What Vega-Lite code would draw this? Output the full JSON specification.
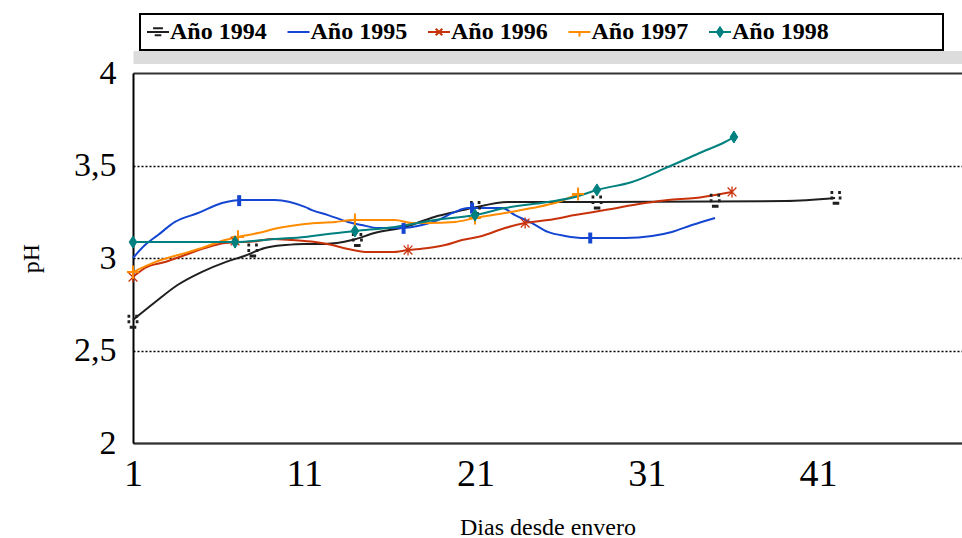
{
  "$schema": "https://vega.github.io/schema/vega-lite/v6.json",
  "width": 829,
  "height": 370,
  "autosize": "none",
  "padding": {"left": 133, "top": 73, "right": 0, "bottom": 95},
  "background": "white",
  "config": {"view": {"stroke": null}, "font": "Liberation Serif"},
  "datasets": {
    "curves": [
      {"serie": "Año 1994", "dia": 1, "ph": 2.665},
      {"serie": "Año 1994", "dia": 2.3, "ph": 2.762},
      {"serie": "Año 1994", "dia": 3.6, "ph": 2.854},
      {"serie": "Año 1994", "dia": 5.0, "ph": 2.924},
      {"serie": "Año 1994", "dia": 6.4, "ph": 2.978},
      {"serie": "Año 1994", "dia": 7.5, "ph": 3.011},
      {"serie": "Año 1994", "dia": 8.7, "ph": 3.054},
      {"serie": "Año 1994", "dia": 9.9, "ph": 3.07},
      {"serie": "Año 1994", "dia": 11.0, "ph": 3.076},
      {"serie": "Año 1994", "dia": 12.2, "ph": 3.076},
      {"serie": "Año 1994", "dia": 13.8, "ph": 3.097},
      {"serie": "Año 1994", "dia": 15.1, "ph": 3.135},
      {"serie": "Año 1994", "dia": 16.9, "ph": 3.168},
      {"serie": "Año 1994", "dia": 18.6, "ph": 3.222},
      {"serie": "Año 1994", "dia": 19.8, "ph": 3.249},
      {"serie": "Año 1994", "dia": 20.8, "ph": 3.27},
      {"serie": "Año 1994", "dia": 22.9, "ph": 3.303},
      {"serie": "Año 1994", "dia": 28.1, "ph": 3.303},
      {"serie": "Año 1994", "dia": 39.1, "ph": 3.308},
      {"serie": "Año 1994", "dia": 42.0, "ph": 3.324},
      {"serie": "Año 1995", "dia": 1, "ph": 3.0},
      {"serie": "Año 1995", "dia": 1.7, "ph": 3.07},
      {"serie": "Año 1995", "dia": 2.46, "ph": 3.124},
      {"serie": "Año 1995", "dia": 3.45, "ph": 3.195},
      {"serie": "Año 1995", "dia": 4.8, "ph": 3.243},
      {"serie": "Año 1995", "dia": 6.2, "ph": 3.297},
      {"serie": "Año 1995", "dia": 7.36, "ph": 3.314},
      {"serie": "Año 1995", "dia": 9.29, "ph": 3.314},
      {"serie": "Año 1995", "dia": 11.04, "ph": 3.276},
      {"serie": "Año 1995", "dia": 11.45, "ph": 3.259},
      {"serie": "Año 1995", "dia": 12.39, "ph": 3.232},
      {"serie": "Año 1995", "dia": 13.55, "ph": 3.195},
      {"serie": "Año 1995", "dia": 14.37, "ph": 3.178},
      {"serie": "Año 1995", "dia": 15.31, "ph": 3.162},
      {"serie": "Año 1995", "dia": 16.71, "ph": 3.162},
      {"serie": "Año 1995", "dia": 17.88, "ph": 3.178},
      {"serie": "Año 1995", "dia": 18.81, "ph": 3.205},
      {"serie": "Año 1995", "dia": 19.8, "ph": 3.249},
      {"serie": "Año 1995", "dia": 20.56, "ph": 3.27},
      {"serie": "Año 1995", "dia": 22.55, "ph": 3.27},
      {"serie": "Año 1995", "dia": 23.31, "ph": 3.232},
      {"serie": "Año 1995", "dia": 24.3, "ph": 3.189},
      {"serie": "Año 1995", "dia": 25.23, "ph": 3.141},
      {"serie": "Año 1995", "dia": 26.23, "ph": 3.119},
      {"serie": "Año 1995", "dia": 27.39, "ph": 3.108},
      {"serie": "Año 1995", "dia": 29.73, "ph": 3.108},
      {"serie": "Año 1995", "dia": 31.31, "ph": 3.119},
      {"serie": "Año 1995", "dia": 32.47, "ph": 3.141},
      {"serie": "Año 1995", "dia": 33.64, "ph": 3.178},
      {"serie": "Año 1995", "dia": 34.99, "ph": 3.216},
      {"serie": "Año 1996", "dia": 1, "ph": 2.897},
      {"serie": "Año 1996", "dia": 1.7, "ph": 2.946},
      {"serie": "Año 1996", "dia": 2.87, "ph": 2.978},
      {"serie": "Año 1996", "dia": 4.04, "ph": 3.016},
      {"serie": "Año 1996", "dia": 5.2, "ph": 3.054},
      {"serie": "Año 1996", "dia": 6.37, "ph": 3.081},
      {"serie": "Año 1996", "dia": 8.3, "ph": 3.092},
      {"serie": "Año 1996", "dia": 9.12, "ph": 3.103},
      {"serie": "Año 1996", "dia": 10.28, "ph": 3.097},
      {"serie": "Año 1996", "dia": 11.63, "ph": 3.086},
      {"serie": "Año 1996", "dia": 12.62, "ph": 3.07},
      {"serie": "Año 1996", "dia": 13.55, "ph": 3.049},
      {"serie": "Año 1996", "dia": 14.72, "ph": 3.032},
      {"serie": "Año 1996", "dia": 16.12, "ph": 3.032},
      {"serie": "Año 1996", "dia": 17.06, "ph": 3.043},
      {"serie": "Año 1996", "dia": 18.23, "ph": 3.054},
      {"serie": "Año 1996", "dia": 19.22, "ph": 3.07},
      {"serie": "Año 1996", "dia": 20.21, "ph": 3.097},
      {"serie": "Año 1996", "dia": 21.38, "ph": 3.119},
      {"serie": "Año 1996", "dia": 22.72, "ph": 3.162},
      {"serie": "Año 1996", "dia": 23.89, "ph": 3.189},
      {"serie": "Año 1996", "dia": 25.23, "ph": 3.205},
      {"serie": "Año 1996", "dia": 26.81, "ph": 3.232},
      {"serie": "Año 1996", "dia": 28.56, "ph": 3.259},
      {"serie": "Año 1996", "dia": 30.9, "ph": 3.297},
      {"serie": "Año 1996", "dia": 32.24, "ph": 3.314},
      {"serie": "Año 1996", "dia": 33.82, "ph": 3.324},
      {"serie": "Año 1996", "dia": 34.99, "ph": 3.341},
      {"serie": "Año 1996", "dia": 35.98, "ph": 3.357},
      {"serie": "Año 1997", "dia": 1, "ph": 2.924},
      {"serie": "Año 1997", "dia": 2.28, "ph": 2.978},
      {"serie": "Año 1997", "dia": 3.63, "ph": 3.016},
      {"serie": "Año 1997", "dia": 5.03, "ph": 3.054},
      {"serie": "Año 1997", "dia": 6.37, "ph": 3.097},
      {"serie": "Año 1997", "dia": 7.13, "ph": 3.114},
      {"serie": "Año 1997", "dia": 8.3, "ph": 3.135},
      {"serie": "Año 1997", "dia": 9.47, "ph": 3.162},
      {"serie": "Año 1997", "dia": 11.04, "ph": 3.184},
      {"serie": "Año 1997", "dia": 12.8, "ph": 3.195},
      {"serie": "Año 1997", "dia": 13.96, "ph": 3.205},
      {"serie": "Año 1997", "dia": 16.3, "ph": 3.205},
      {"serie": "Año 1997", "dia": 17.29, "ph": 3.189},
      {"serie": "Año 1997", "dia": 18.23, "ph": 3.189},
      {"serie": "Año 1997", "dia": 19.8, "ph": 3.195},
      {"serie": "Año 1997", "dia": 20.97, "ph": 3.216},
      {"serie": "Año 1997", "dia": 22.72, "ph": 3.243},
      {"serie": "Año 1997", "dia": 24.3, "ph": 3.27},
      {"serie": "Año 1997", "dia": 25.82, "ph": 3.303},
      {"serie": "Año 1997", "dia": 26.99, "ph": 3.346},
      {"serie": "Año 1998", "dia": 1, "ph": 3.086},
      {"serie": "Año 1998", "dia": 6.96, "ph": 3.086},
      {"serie": "Año 1998", "dia": 9.29, "ph": 3.103},
      {"serie": "Año 1998", "dia": 11.04, "ph": 3.114},
      {"serie": "Año 1998", "dia": 12.39, "ph": 3.13},
      {"serie": "Año 1998", "dia": 13.96, "ph": 3.146},
      {"serie": "Año 1998", "dia": 16.3, "ph": 3.168},
      {"serie": "Año 1998", "dia": 18.64, "ph": 3.205},
      {"serie": "Año 1998", "dia": 20.97, "ph": 3.232},
      {"serie": "Año 1998", "dia": 22.72, "ph": 3.27},
      {"serie": "Año 1998", "dia": 25.23, "ph": 3.303},
      {"serie": "Año 1998", "dia": 26.81, "ph": 3.33},
      {"serie": "Año 1998", "dia": 28.09, "ph": 3.368},
      {"serie": "Año 1998", "dia": 30.14, "ph": 3.411},
      {"serie": "Año 1998", "dia": 32.24, "ph": 3.492},
      {"serie": "Año 1998", "dia": 34.23, "ph": 3.573},
      {"serie": "Año 1998", "dia": 35.57, "ph": 3.627},
      {"serie": "Año 1998", "dia": 36.09, "ph": 3.654}
    ],
    "readings": [
      {"serie": "Año 1994", "dia": 1, "ph": 2.655},
      {"serie": "Año 1994", "dia": 8, "ph": 3.04},
      {"serie": "Año 1994", "dia": 14.1, "ph": 3.097},
      {"serie": "Año 1994", "dia": 21, "ph": 3.27},
      {"serie": "Año 1994", "dia": 28.1, "ph": 3.3},
      {"serie": "Año 1994", "dia": 35, "ph": 3.31},
      {"serie": "Año 1994", "dia": 42.05, "ph": 3.325},
      {"serie": "Año 1995", "dia": 7.2, "ph": 3.31},
      {"serie": "Año 1995", "dia": 16.8, "ph": 3.16},
      {"serie": "Año 1995", "dia": 20.8, "ph": 3.27},
      {"serie": "Año 1995", "dia": 27.7, "ph": 3.108},
      {"serie": "Año 1996", "dia": 1, "ph": 2.897},
      {"serie": "Año 1996", "dia": 6.96, "ph": 3.092},
      {"serie": "Año 1996", "dia": 17.06, "ph": 3.043},
      {"serie": "Año 1996", "dia": 23.9, "ph": 3.189},
      {"serie": "Año 1996", "dia": 35.98, "ph": 3.357},
      {"serie": "Año 1997", "dia": 1, "ph": 2.924},
      {"serie": "Año 1997", "dia": 7.13, "ph": 3.114},
      {"serie": "Año 1997", "dia": 13.96, "ph": 3.205},
      {"serie": "Año 1997", "dia": 20.97, "ph": 3.216},
      {"serie": "Año 1997", "dia": 26.99, "ph": 3.346},
      {"serie": "Año 1998", "dia": 1, "ph": 3.086},
      {"serie": "Año 1998", "dia": 6.96, "ph": 3.086},
      {"serie": "Año 1998", "dia": 13.96, "ph": 3.146},
      {"serie": "Año 1998", "dia": 20.97, "ph": 3.232},
      {"serie": "Año 1998", "dia": 28.09, "ph": 3.368},
      {"serie": "Año 1998", "dia": 36.09, "ph": 3.654}
    ]
  },
  "encoding": {
    "y": {
      "field": "ph",
      "type": "quantitative",
      "scale": {"domain": [2, 4], "nice": false, "zero": false},
      "axis": {
        "values": [2, 2.5, 3, 3.5, 4],
        "labelExpr": "replace(format(datum.value, '~g'), '.', ',')",
        "ticks": false,
        "domainColor": "#000",
        "domainWidth": 2,
        "grid": true,
        "gridColor": {"condition": {"test": "datum.value === 4", "value": "#333"}, "value": "#000"},
        "gridDash": {"condition": {"test": "datum.value === 4 || datum.value === 2", "value": []}, "value": [2, 2]},
        "gridWidth": {"condition": {"test": "datum.value === 4", "value": 2}, "value": 1.5},
        "labelFont": "Liberation Serif",
        "labelFontSize": 34,
        "labelColor": "#000",
        "labelPadding": 17,
        "title": "pH",
        "titleFont": "Liberation Serif",
        "titleFontSize": 24,
        "titleFontWeight": "normal",
        "titleColor": "#000",
        "titleX": -102,
        "titleY": 185,
        "titleAlign": "center",
        "titleBaseline": "middle"
      }
    },
    "color": {
      "field": "serie",
      "type": "nominal",
      "scale": {
        "domain": ["Año 1994", "Año 1995", "Año 1996", "Año 1997", "Año 1998"],
        "range": ["#1f1f1f", "#1446D2", "#C8320A", "#FF8C00", "#00807F"]
      },
      "legend": {
        "title": null,
        "orient": "none",
        "legendX": 7,
        "legendY": -59,
        "direction": "horizontal",
        "padding": 6,
        "strokeColor": "#000",
        "fillColor": "#fff",
        "labelFont": "Liberation Serif",
        "labelFontSize": 24,
        "labelFontWeight": "bold",
        "labelColor": "#000",
        "labelOffset": 0,
        "labelLimit": 400,
        "columnPadding": 16.5,
        "symbolSize": 484,
        "symbolStrokeWidth": 2,
        "symbolOpacity": 1,
        "labelExpr": "datum.value === 'Año 1998' ? datum.label + '\u2800\u2800\u2800\u2800\u2800\u2800' : datum.label",
        "encode": {
          "legend": {"update": {"strokeWidth": {"value": 2}}},
          "symbols": {
            "update": {
              "shape": {"signal": "datum.value === 'Año 1994' ? 'M-1,0H1M-0.45,-0.35H0.45M-0.3,0.3H0.3' : datum.value === 'Año 1995' ? 'M-1,0H1' : datum.value === 'Año 1996' ? 'M-1,0H1M-0.3,-0.3L0.3,0.3M-0.3,0.3L0.3,-0.3' : datum.value === 'Año 1997' ? 'M-1,0H1M0,0V0.4' : 'M-1,0H1M0,-0.4L0.28,0L0,0.4L-0.28,0Z'"},
              "fill": {"signal": "datum.value === 'Año 1998' ? '#00807F' : 'transparent'"},
              "strokeWidth": {"value": 2}
            }
          }
        }
      }
    }
  },
  "layer": [
    {
      "data": {"name": "curves"},
      "mark": {"type": "line", "interpolate": "monotone", "strokeWidth": 2},
      "encoding": {
        "x": {
          "field": "dia",
          "type": "quantitative",
          "scale": {"domain": [1, 49.41], "nice": false, "zero": false},
          "axis": {
            "values": [1, 11, 21, 31, 41],
            "format": "d",
            "ticks": false,
            "grid": false,
            "domainColor": "#333",
            "domainWidth": 2,
            "labelFont": "Liberation Serif",
            "labelFontSize": 38,
            "labelColor": "#000",
            "labelPadding": 12,
            "labelFlush": false,
            "labelOverlap": false,
            "title": "Dias desde envero",
            "titleFont": "Liberation Serif",
            "titleFontSize": 24,
            "titleFontWeight": "normal",
            "titleColor": "#000",
            "titleBaseline": "alphabetic",
            "titleY": 91
          }
        }
      }
    },
    {
      "data": {"name": "readings"},
      "mark": {"type": "point", "filled": false, "opacity": 1, "size": 120},
      "encoding": {
        "x": {
          "field": "dia",
          "type": "quantitative",
          "scale": {"domain": [1, 49.41], "nice": false, "zero": false},
          "axis": {
            "orient": "top",
            "offset": 16,
            "domainColor": "#dcdcdc",
            "domainWidth": 13,
            "labels": false,
            "ticks": false,
            "grid": false,
            "title": null
          }
        },
        "shape": {
          "condition": [
            {"test": "datum.serie === 'Año 1994'", "value": "M-1,-1H-0.5M0.4,-1H0.9M-1,0H-0.5M0.5,0H1M-0.6,1H0.6"},
            {"test": "datum.serie === 'Año 1995'", "value": "M0,-1V1"},
            {"test": "datum.serie === 'Año 1996'", "value": "M-0.8,-0.8L0.8,0.8M-0.8,0.8L0.8,-0.8M0,-1V1"},
            {"test": "datum.serie === 'Año 1997'", "value": "M-1.1,0H1.1M0,-1.2V1.2"}
          ],
          "value": "M0,-1.1L0.7,0L0,1.1L-0.7,0Z"
        },
        "strokeWidth": {
          "condition": [
            {"test": "datum.serie === 'Año 1994'", "value": 3},
            {"test": "datum.serie === 'Año 1995'", "value": 4},
            {"test": "datum.serie === 'Año 1996'", "value": 1.3},
            {"test": "datum.serie === 'Año 1997'", "value": 2}
          ],
          "value": 1
        },
        "fill": {
          "condition": {"test": "datum.serie === 'Año 1998'", "value": "#00807F"},
          "value": "transparent"
        }
      }
    }
  ],
  "resolve": {"scale": {"x": "independent"}, "axis": {"x": "independent"}}
}
